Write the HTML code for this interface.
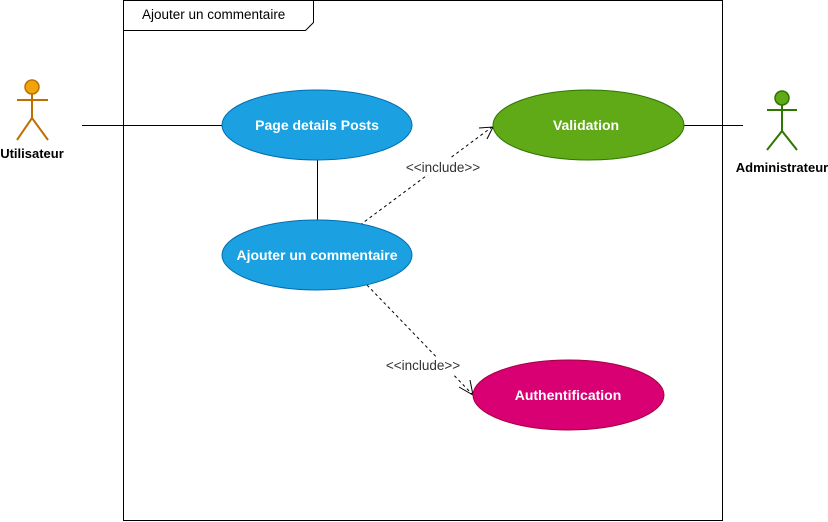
<!DOCTYPE html>
<html><head><meta charset="utf-8"><style>body{margin:0;background:#fff}svg{display:block}</style></head><body>
<svg width="828" height="522" viewBox="0 0 828 522" xmlns="http://www.w3.org/2000/svg" font-family="Liberation Sans, Arial, sans-serif">
<rect x="123.5" y="0.5" width="599" height="520" fill="#fff" stroke="#000"/>
<path d="M123.5 30.5 H305.5 L313.5 22.5 V0.5" fill="none" stroke="#000"/>
<text x="142" y="19" font-size="13.5">Ajouter un commentaire</text>
<line x1="82" y1="125.5" x2="222" y2="125.5" stroke="#000"/>
<line x1="317.5" y1="160" x2="317.5" y2="220" stroke="#000"/>
<line x1="684" y1="125.5" x2="743" y2="125.5" stroke="#000"/>
<g fill="none" stroke="#000" stroke-dasharray="3,3">
<line x1="360" y1="225" x2="492" y2="127"/>
<line x1="367" y1="285" x2="472" y2="394"/>
</g>
<path d="M479 128 L493 127 L487 139" fill="none" stroke="#000"/>
<path d="M459 387 L473 395 L470 380" fill="none" stroke="#000"/>
<rect x="402" y="158" width="82" height="17" fill="#fff"/>
<text x="443" y="172" font-size="13.5" fill="#333" text-anchor="middle">&lt;&lt;include&gt;&gt;</text>
<rect x="382" y="357" width="82" height="17" fill="#fff"/>
<text x="423" y="370" font-size="13.5" fill="#333" text-anchor="middle">&lt;&lt;include&gt;&gt;</text>
<ellipse cx="317" cy="125" rx="95" ry="35" fill="#1ba1e2" stroke="#006eaf"/>
<ellipse cx="317" cy="255" rx="95" ry="35" fill="#1ba1e2" stroke="#006eaf"/>
<ellipse cx="588.5" cy="125" rx="95.5" ry="35" fill="#60a917" stroke="#2d7600"/>
<ellipse cx="568.5" cy="395" rx="95.5" ry="35" fill="#d80073" stroke="#a50040"/>
<g font-size="14" font-weight="bold" fill="#fff" text-anchor="middle">
<text x="317" y="130">Page details Posts</text>
<text x="317" y="260">Ajouter un commentaire</text>
<text x="586" y="130">Validation</text>
<text x="568" y="400">Authentification</text>
</g>
<g stroke="#bd7000" stroke-width="2" fill="none">
<circle cx="32" cy="87" r="7" fill="#f0a30a" stroke-width="1.5"/>
<line x1="32" y1="94" x2="32" y2="118"/><line x1="17" y1="100" x2="48" y2="100"/>
<path d="M17 140 L32 118 L48 140"/>
</g>
<text x="32" y="158" font-size="13" font-weight="bold" text-anchor="middle">Utilisateur</text>
<g stroke="#2d7600" stroke-width="2" fill="none">
<circle cx="782" cy="98" r="7" fill="#60a917" stroke-width="1.5"/>
<line x1="782" y1="105" x2="782" y2="131"/><line x1="767" y1="110" x2="797" y2="110"/>
<path d="M767 150 L782 131 L797 150"/>
</g>
<text x="782" y="172" font-size="13" font-weight="bold" text-anchor="middle">Administrateur</text>
</svg>
</body></html>
